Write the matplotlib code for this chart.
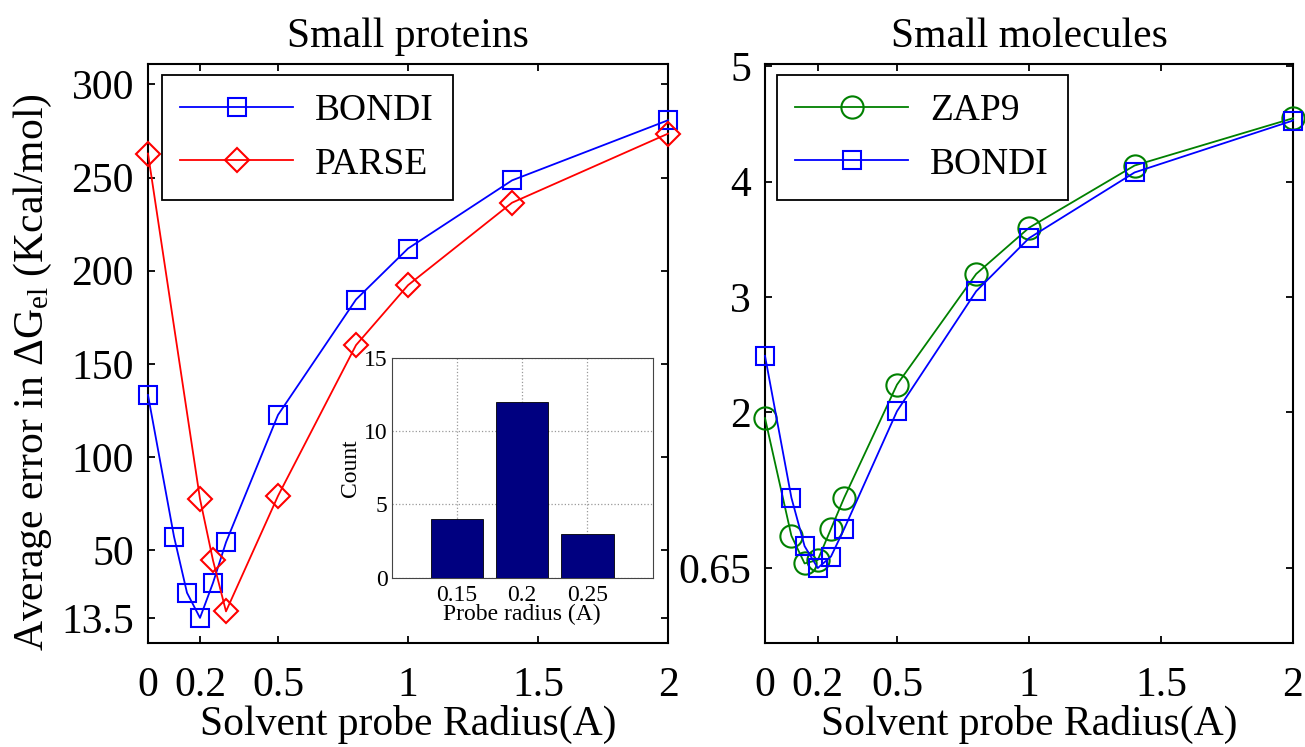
import matplotlib
matplotlib.use("Agg")
import matplotlib.pyplot as plt

plt.rcParams.update({
    "font.family": "Liberation Serif",
    "mathtext.fontset": "custom",
    "mathtext.rm": "Liberation Serif",
    "mathtext.it": "Liberation Serif:italic",
    "font.size": 30,
    "axes.linewidth": 1.5,
    "xtick.direction": "in",
    "ytick.direction": "in",
    "xtick.top": True,
    "ytick.right": True,
    "xtick.major.size": 5,
    "ytick.major.size": 5,
    "xtick.major.width": 1.3,
    "ytick.major.width": 1.3,
})

# --- small proteins ---
radius_bondi_prot = [0, 0.1, 0.15, 0.2, 0.25, 0.3, 0.5, 0.8, 1.0, 1.4, 2.0]
bondi_prot = [133.2, 57.2, 27.0, 13.5, 32.3, 54.1, 122.5, 184.5, 211.9, 248.5, 280.8]
radius_parse_prot = [0, 0.2, 0.25, 0.3, 0.5, 0.8, 1.0, 1.4, 2.0]
parse_prot = [262.9, 77.4, 44.4, 17.0, 79.0, 160.0, 192.2, 236.5, 273.6]
prot_yticks = [13.5, 50, 100, 150, 200, 250, 300]

# --- small molecules ---
radius_mol = [0, 0.1, 0.15, 0.2, 0.25, 0.3, 0.5, 0.8, 1.0, 1.4, 2.0]
zap9_mol = [1.95, 0.93, 0.69, 0.72, 0.99, 1.26, 2.24, 3.20, 3.60, 4.14, 4.55]
bondi_mol = [2.49, 1.26, 0.84, 0.65, 0.75, 0.99, 2.01, 3.05, 3.51, 4.08, 4.53]
mol_yticks = [0.65, 2, 3, 4, 5]

xticks = [0, 0.2, 0.5, 1, 1.5, 2]

# --- inset histogram ---
probe_labels = ["0.15", "0.2", "0.25"]
probe_counts = [4, 12, 3]

BLUE = "#0000ff"
RED = "#ff0000"
GREEN = "#008000"

fig = plt.figure(figsize=(13.05, 7.47), dpi=100)
ax1 = fig.add_axes([0.1134, 0.1392, 0.3985, 0.7751])
ax2 = fig.add_axes([0.5862, 0.1392, 0.4046, 0.7751])

line_kw = dict(lw=1.3, mfc="none", mew=1.5, clip_on=False, zorder=4)
leg_kw = dict(loc="upper left", borderaxespad=0, fontsize=27,
              handlelength=3.0, fancybox=False, framealpha=1,
              edgecolor="black", borderpad=0.5, labelspacing=0.5,
              handletextpad=0.6)


def xlabels(vals):
    return [f"{v:g}" for v in vals]


ax1.plot(radius_bondi_prot, bondi_prot, "-s", color=BLUE, ms=13,
         label="BONDI", **line_kw)
ax1.plot(radius_parse_prot, parse_prot, "-D", color=RED, ms=12,
         label="PARSE", **line_kw)
ax1.set_xlim(0, 2)
ax1.set_ylim(0, 311)
ax1.set_xticks(xticks)
ax1.set_xticklabels(xlabels(xticks))
ax1.set_yticks(prot_yticks)
ax1.set_yticklabels(["13.5", "50", "100", "150", "200", "250", "300"])
ax1.set_title("Small proteins", fontsize=30, pad=12)
ax1.set_xlabel("Solvent probe Radius(A)", fontsize=30, labelpad=0)
ax1.set_ylabel(r"Average error in $\Delta\mathrm{G}_{\mathrm{el}}$ (Kcal/mol)",
               fontsize=30, va="baseline")
ax1.yaxis.set_label_coords(-0.202, 0.467)
ax1.tick_params(axis="y", pad=10)
ax1.tick_params(axis="x", pad=17)
leg1 = ax1.legend(bbox_to_anchor=(0.026, 0.981), **leg_kw)
leg1.get_frame().set_linewidth(1.3)

ax2.plot(radius_mol, zap9_mol, "-o", color=GREEN, ms=16,
         label="ZAP9", **line_kw)
ax2.plot(radius_mol, bondi_mol, "-s", color=BLUE, ms=13,
         label="BONDI", **line_kw)
ax2.set_xlim(0, 2)
ax2.set_ylim(0, 5.02)
ax2.set_xticks(xticks)
ax2.set_xticklabels(xlabels(xticks))
ax2.set_yticks(mol_yticks)
ax2.set_yticklabels(["0.65", "2", "3", "4", "5"])
ax2.set_title("Small molecules", fontsize=30, pad=12)
ax2.set_xlabel("Solvent probe Radius(A)", fontsize=30, labelpad=0)
ax2.tick_params(axis="y", pad=10)
ax2.tick_params(axis="x", pad=17)
leg2 = ax2.legend(bbox_to_anchor=(0.022, 0.981), **leg_kw)
leg2.get_frame().set_linewidth(1.3)

# inset histogram
axi = fig.add_axes([0.3001, 0.2266, 0.2001, 0.2946])
axi.bar(range(1, len(probe_counts) + 1), probe_counts, width=0.8,
        color="#000080", edgecolor="black", lw=0.6, zorder=3)
axi.set_xlim(0, 4)
axi.set_ylim(0, 15)
axi.set_xticks(range(1, len(probe_labels) + 1))
axi.set_xticklabels(probe_labels)
axi.set_yticks([0, 5, 10, 15])
axi.grid(True, ls=":", color="#999999", lw=0.9, zorder=0)
axi.tick_params(labelsize=17, length=0)
axi.tick_params(axis="x", pad=5)
axi.tick_params(axis="y", pad=3)
axi.set_xlabel("Probe radius (A)", fontsize=17, labelpad=-1)
axi.set_ylabel("Count", fontsize=17, labelpad=2)
for sp in axi.spines.values():
    sp.set_linewidth(0.8)
    sp.set_color("#444444")

fig.savefig("out.png", dpi=100)
